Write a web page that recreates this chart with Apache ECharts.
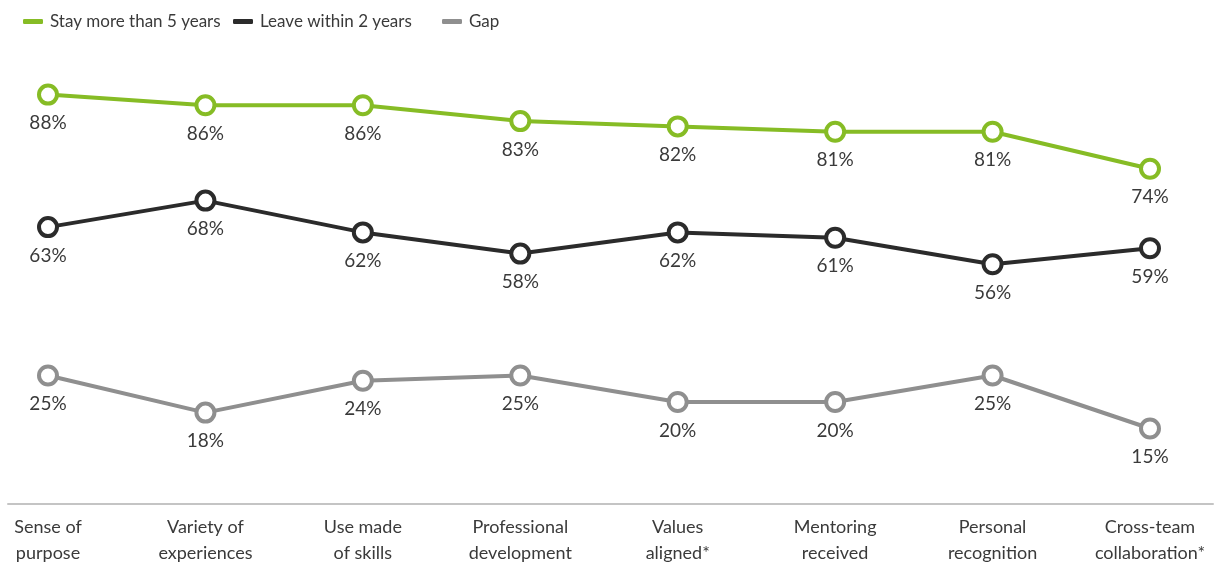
<!DOCTYPE html>
<html>
<head>
<meta charset="utf-8">
<script src="https://cdn.jsdelivr.net/npm/echarts@6/dist/echarts.min.js"></script>
<style>
  html, body { margin: 0; padding: 0; background: #fff; }
  #chart { width: 1221px; height: 567px; }
</style>
</head>
<body>
<div id="chart"></div>
<script>
const categories = [
  "Sense of\npurpose",
  "Variety of\nexperiences",
  "Use made\nof skills",
  "Professional\ndevelopment",
  "Values\naligned*",
  "Mentoring\nreceived",
  "Personal\nrecognition",
  "Cross-team\ncollaboration*"
];
const stayMoreThan5 = [88, 86, 86, 83, 82, 81, 81, 74];
const leaveWithin2 = [63, 68, 62, 58, 62, 61, 56, 59];
const gap = [25, 18, 24, 25, 20, 20, 25, 15];

const colors = {
  green: "#86bc25",
  black: "#2b2b2b",
  gray: "#8f8f8f",
  text: "#3a3a3a",
  axis: "#c4c4c4"
};
const font = "Lato, 'Noto Sans', sans-serif";

const chart = echarts.init(document.getElementById("chart"));

const makeSeries = (name, data, color, yAxisIndex) => ({
  name,
  type: "line",
  data,
  xAxisIndex: 0,
  yAxisIndex,
  color,
  symbol: "circle",
  symbolSize: 18,
  lineStyle: { width: 4, color },
  itemStyle: { color: "#fff", borderColor: color, borderWidth: 4 },
  label: {
    show: true,
    position: "bottom",
    distance: 8,
    formatter: "{c}%",
    color: colors.text,
    fontSize: 19,
    fontFamily: font
  },
  emphasis: { disabled: true }
});

// one legend per item so the uneven gaps of the original can be kept
const legendItem = (name, color, left) => ({
  data: [{ name, itemStyle: { color, borderWidth: 0 } }],
  left,
  top: 13,
  icon: "roundRect",
  itemWidth: 20,
  itemHeight: 5,
  itemGap: 0,
  padding: 0,
  selectedMode: false,
  textStyle: { color: colors.text, fontSize: 17, fontFamily: font, padding: [0, 0, 0, 2] }
});

chart.setOption({
  animation: false,
  legend: [
    legendItem("Stay more than 5 years", colors.green, 23),
    legendItem("Leave within 2 years", colors.black, 233),
    legendItem("Gap", colors.gray, 442)
  ],
  grid: [
    { left: 48, right: 71, top: 31, bottom: 6 },
    { left: 48, right: 71, top: 503, height: 1 },
    { left: 8, right: 8, top: 503, height: 1 }
  ],
  xAxis: [
    {
      type: "category",
      gridIndex: 0,
      data: categories,
      boundaryGap: false,
      show: false
    },
    {
      type: "category",
      gridIndex: 1,
      data: categories,
      boundaryGap: false,
      axisLine: { show: false },
      axisTick: { show: false },
      axisLabel: {
        interval: 0,
        margin: 10,
        color: colors.text,
        fontSize: 18,
        lineHeight: 26,
        fontFamily: font
      }
    },
    {
      type: "value",
      gridIndex: 2,
      min: 0,
      max: 1,
      position: "top",
      axisLine: { show: true, lineStyle: { color: colors.axis, width: 2 } },
      axisTick: { show: false },
      axisLabel: { show: false },
      splitLine: { show: false }
    }
  ],
  yAxis: [
    { type: "value", gridIndex: 0, min: 0, max: 100, show: false },
    { type: "value", gridIndex: 0, min: -10, max: 90, show: false },
    { type: "value", gridIndex: 1, show: false },
    { type: "value", gridIndex: 2, show: false }
  ],
  series: [
    makeSeries("Stay more than 5 years", stayMoreThan5, colors.green, 0),
    makeSeries("Leave within 2 years", leaveWithin2, colors.black, 0),
    makeSeries("Gap", gap, colors.gray, 1)
  ]
});
</script>
</body>
</html>
